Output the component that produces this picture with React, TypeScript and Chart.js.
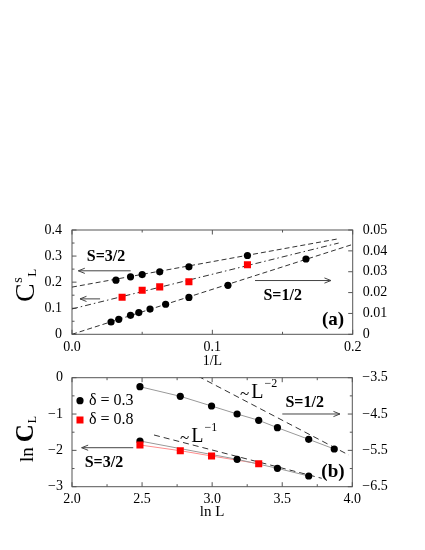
import React, { useEffect, useRef } from "react";
import { Chart, registerables } from "chart.js";

Chart.register(...registerables);

// ---------------- Panel (a): C^s_L versus 1/L ----------------
// S = 1/2 (right axis)
const INV_L_HALF = [0.0278, 0.0333, 0.0417, 0.0476, 0.0556, 0.0667, 0.0833, 0.1111, 0.1667];
const CS_HALF = [0.0059, 0.0072, 0.0091, 0.0104, 0.0121, 0.0144, 0.0177, 0.0235, 0.0361];
const FIT_HALF_X = [0, 0.2];
const FIT_HALF_Y = [0, 0.0431];

// S = 3/2, delta = 0.3 (left axis)
const INV_L_D03 = [0.0313, 0.0417, 0.05, 0.0625, 0.0833, 0.125];
const CS_D03 = [0.2077, 0.2204, 0.2292, 0.2396, 0.2588, 0.3023];
const FIT_D03_X = [0, 0.19];
const FIT_D03_Y = [0.181, 0.3665];

// S = 3/2, delta = 0.8 (left axis)
const INV_L_D08 = [0.0357, 0.05, 0.0625, 0.0833, 0.125];
const CS_D08 = [0.1423, 0.1692, 0.1819, 0.2012, 0.2665];
const FIT_D08_X = [0, 0.19];
const FIT_D08_Y = [0.0973, 0.35];

// ---------------- Panel (b): ln C_L versus ln L ----------------
// S = 1/2 (right axis)
const LNL_HALF = [2.4849, 2.7726, 2.9957, 3.1781, 3.3322, 3.4657, 3.6889, 3.8712];
const LNC_HALF = [-3.748, -4.012, -4.279, -4.499, -4.673, -4.876, -5.196, -5.462];
// S = 3/2, delta = 0.3 (left axis)
const LNL_D03 = [2.4849, 3.1781, 3.4657, 3.6889];
const LNC_D03 = [-1.742, -2.246, -2.494, -2.706];
// S = 3/2, delta = 0.8 (left axis)
const LNL_D08 = [2.4849, 2.7726, 2.9957, 3.3322];
const LNC_D08 = [-1.852, -2.009, -2.155, -2.367];
// guide ~ L^-2 (right axis) and ~ L^-1 (left axis)
const GUIDE_L2_X = [2.9, 3.976];
const GUIDE_L2_Y = [-3.46, -5.63];
const GUIDE_L1_X = [2.585, 3.782];
const GUIDE_L1_Y = [-1.577, -2.769];

// ---------------- Ticks ----------------
const TOP_X_TICKS = [0, 0.1, 0.2];
const TOP_X_LABELS = ["0.0", "0.1", "0.2"];
const TOP_X_MINOR = [0.05, 0.15];
const TOP_YL_TICKS = [0, 0.1, 0.2, 0.3, 0.4];
const TOP_YL_LABELS = ["0", "0.1", "0.2", "0.3", "0.4"];
const TOP_YL_MINOR = [0.05, 0.15, 0.25, 0.35];
const TOP_YR_TICKS = [0, 0.01, 0.02, 0.03, 0.04, 0.05];
const TOP_YR_LABELS = ["0", "0.01", "0.02", "0.03", "0.04", "0.05"];
const TOP_YR_MINOR: number[] = [];

const BOT_X_TICKS = [2, 2.5, 3, 3.5, 4];
const BOT_X_LABELS = ["2.0", "2.5", "3.0", "3.5", "4.0"];
const BOT_X_MINOR = [2.25, 2.75, 3.25, 3.75];
const BOT_YL_TICKS = [-3, -2, -1, 0];
const BOT_YL_LABELS = ["\u22123", "\u22122", "\u22121", "0"];
const BOT_YL_MINOR = [-2.5, -1.5, -0.5];
const BOT_YR_TICKS = [-6.5, -5.5, -4.5, -3.5];
const BOT_YR_LABELS = ["\u22126.5", "\u22125.5", "\u22124.5", "\u22123.5"];
const BOT_YR_MINOR = [-6, -5, -4];

const SERIF = '"Liberation Serif", "Times New Roman", serif';
const FRAME = "#555";
const FIT = "#333";

const zip = (xs: number[], ys: number[]) => xs.map((x, i) => ({ x, y: ys[i] }));

function setTicks(values: number[]) {
  return (s: any) => {
    s.ticks = values.map((v) => ({ value: v }));
  };
}

function tickOpts(labels: string[], padding: number) {
  return {
    callback: (_v: any, i: number) => labels[i],
    autoSkip: false,
    maxRotation: 0,
    padding,
    color: "#000",
    font: { family: SERIF, size: 14 },
  };
}

function seg(ctx: CanvasRenderingContext2D, x1: number, y1: number, x2: number, y2: number) {
  ctx.beginPath();
  ctx.moveTo(x1, y1);
  ctx.lineTo(x2, y2);
  ctx.stroke();
}

function arrow(ctx: CanvasRenderingContext2D, x1: number, y1: number, x2: number, y2: number) {
  const ang = Math.atan2(y2 - y1, x2 - x1);
  const L = 6.5;
  const W = 2.6;
  seg(ctx, x1, y1, x2, y2);
  ctx.beginPath();
  ctx.moveTo(x2 - L * Math.cos(ang) + W * Math.sin(ang), y2 - L * Math.sin(ang) - W * Math.cos(ang));
  ctx.lineTo(x2, y2);
  ctx.lineTo(x2 - L * Math.cos(ang) - W * Math.sin(ang), y2 - L * Math.sin(ang) + W * Math.cos(ang));
  ctx.stroke();
}

function text(
  ctx: CanvasRenderingContext2D,
  s: string,
  x: number,
  y: number,
  font: string,
  align: CanvasTextAlign = "left",
  baseline: CanvasTextBaseline = "alphabetic"
) {
  ctx.font = font;
  ctx.textAlign = align;
  ctx.textBaseline = baseline;
  ctx.fillStyle = "#000";
  ctx.fillText(s, x, y);
  return ctx.measureText(s).width;
}

function drawFrameAndTicks(
  chart: any,
  xMaj: number[],
  xMin: number[],
  ylMaj: number[],
  ylMin: number[],
  yrMaj: number[],
  yrMin: number[]
) {
  const { ctx, chartArea: a, scales } = chart;
  const MAJ = 4.5;
  const MIN = 2.5;
  ctx.save();
  ctx.strokeStyle = FRAME;
  ctx.lineWidth = 1;
  ctx.strokeRect(a.left, a.top, a.right - a.left, a.bottom - a.top);
  const xt = (vals: number[], len: number) =>
    vals.forEach((v) => {
      const p = scales.x.getPixelForValue(v);
      seg(ctx, p, a.bottom, p, a.bottom - len);
      seg(ctx, p, a.top, p, a.top + len);
    });
  xt(xMaj, MAJ);
  xt(xMin, MIN);
  const yt = (id: string, vals: number[], len: number, left: boolean) =>
    vals.forEach((v) => {
      const p = scales[id].getPixelForValue(v);
      if (left) seg(ctx, a.left, p, a.left + len, p);
      else seg(ctx, a.right, p, a.right - len, p);
    });
  yt("y", ylMaj, MAJ, true);
  yt("y", ylMin, MIN, true);
  yt("y2", yrMaj, MAJ, false);
  yt("y2", yrMin, MIN, false);
  ctx.restore();
}

const topDecor = {
  id: "topDecor",
  beforeDatasetsDraw(chart: any) {
    drawFrameAndTicks(chart, TOP_X_TICKS, TOP_X_MINOR, TOP_YL_TICKS, TOP_YL_MINOR, TOP_YR_TICKS, TOP_YR_MINOR);
  },
  afterDatasetsDraw(chart: any) {
    const { ctx, scales } = chart;
    const X = (v: number) => scales.x.getPixelForValue(v);
    const Y = (v: number) => scales.y.getPixelForValue(v);
    ctx.save();
    ctx.strokeStyle = "#444";
    ctx.lineWidth = 1;
    arrow(ctx, X(0.0418), Y(0.2435), X(0.0045), Y(0.2435));
    arrow(ctx, X(0.02), Y(0.1358), X(0.0057), Y(0.1358));
    arrow(ctx, X(0.1304), Y(0.2062), X(0.1845), Y(0.2062));
    const bold16 = `bold 16px ${SERIF}`;
    text(ctx, "S=3/2", X(0.0242), Y(0.2985), bold16, "center", "middle");
    text(ctx, "S=1/2", X(0.1501), Y(0.1485), bold16, "center", "middle");
    text(ctx, "(a)", X(0.186), Y(0.055), `bold 19px ${SERIF}`, "center", "middle");

    // y-axis title C^s_L (rotated)
    ctx.save();
    ctx.translate(34, 302);
    ctx.rotate(-Math.PI / 2);
    const wC = text(ctx, "C", 0, 0, `28px ${SERIF}`);
    text(ctx, "s", wC + 0.5, -12, `14px ${SERIF}`);
    text(ctx, "L", wC + 6.5, 2, `13px ${SERIF}`);
    ctx.restore();
    ctx.restore();
  },
};

const botDecor = {
  id: "botDecor",
  beforeDatasetsDraw(chart: any) {
    drawFrameAndTicks(chart, BOT_X_TICKS, BOT_X_MINOR, BOT_YL_TICKS, BOT_YL_MINOR, BOT_YR_TICKS, BOT_YR_MINOR);
  },
  afterDatasetsDraw(chart: any) {
    const { ctx, scales } = chart;
    const X = (v: number) => scales.x.getPixelForValue(v);
    const Y = (v: number) => scales.y.getPixelForValue(v);
    ctx.save();
    ctx.strokeStyle = "#444";
    ctx.lineWidth = 1;
    arrow(ctx, X(3.5006), Y(-0.999), X(3.912), Y(-0.999));
    arrow(ctx, X(2.437), Y(-1.927), X(2.069), Y(-1.927));
    const bold16 = `bold 16px ${SERIF}`;
    text(ctx, "S=1/2", X(3.66), Y(-0.688), bold16, "center", "middle");
    text(ctx, "S=3/2", X(2.228), Y(-2.356), bold16, "center", "middle");
    text(ctx, "(b)", X(3.862), Y(-2.587), `bold 19px ${SERIF}`, "center", "middle");

    // power-law guides labels
    const powLabel = (x0: number, yb: number, sup: string) => {
      let x = x0;
      x += text(ctx, "~", x, yb + 1, `17px ${SERIF}`) + 2;
      x += text(ctx, "L", x, yb, `20px ${SERIF}`) + 1;
      text(ctx, sup, x, yb - 11, `12px ${SERIF}`);
    };
    powLabel(X(3.199), Y(-0.559), "\u22122");
    powLabel(X(2.771), Y(-1.762), "\u22121");

    // legend
    const lx = X(2.057);
    const ly1 = Y(-0.633);
    const ly2 = Y(-1.164);
    ctx.fillStyle = "#000";
    ctx.beginPath();
    ctx.arc(lx, ly1, 3.6, 0, Math.PI * 2);
    ctx.fill();
    ctx.fillStyle = "#ff0000";
    ctx.fillRect(lx - 3.5, ly2 - 3.5, 7, 7);
    text(ctx, "\u03b4 = 0.3", X(2.121), ly1, `16px ${SERIF}`, "left", "middle");
    text(ctx, "\u03b4 = 0.8", X(2.121), ly2, `16px ${SERIF}`, "left", "middle");

    // y-axis title ln C_L (rotated)
    ctx.save();
    ctx.translate(33, 462);
    ctx.rotate(-Math.PI / 2);
    const wln = text(ctx, "ln", 0, 0, `19px ${SERIF}`);
    const wC = text(ctx, "C", wln + 5, 0, `bold 25px ${SERIF}`);
    text(ctx, "L", wln + 5 + wC + 1, 3, `12px ${SERIF}`);
    ctx.restore();
    ctx.restore();
  },
};

function pointSet(data: any[], yAxisID: string, red = false) {
  return {
    data,
    yAxisID,
    showLine: false,
    pointStyle: red ? "rect" : "circle",
    pointRadius: red ? 5 : 3.6,
    pointBackgroundColor: red ? "#ff0000" : "#000",
    pointBorderColor: red ? "#ff0000" : "#000",
    pointBorderWidth: 0,
    order: 0,
  };
}

function lineSet(data: any[], yAxisID: string, color: string, dash: number[]) {
  return {
    data,
    yAxisID,
    showLine: true,
    borderColor: color,
    borderWidth: 1,
    borderDash: dash,
    pointRadius: 0,
    fill: false,
    order: 1,
  };
}

function baseOptions(padTop: number, padBottom: number) {
  return {
    responsive: false,
    animation: false as const,
    devicePixelRatio: 1,
    events: [],
    layout: { padding: { top: padTop, bottom: padBottom, left: 0, right: 0 } },
    plugins: { legend: { display: false }, tooltip: { enabled: false } },
  };
}

function topConfig(): any {
  const o: any = baseOptions(230, 180.6);
  o.scales = {
    x: {
      type: "linear",
      position: "bottom",
      min: 0,
      max: 0.2,
      afterBuildTicks: setTicks(TOP_X_TICKS),
      ticks: tickOpts(TOP_X_LABELS, 5),
      grid: { display: false, drawTicks: false },
      border: { display: false },
      title: { display: true, text: "1/L", color: "#000", font: { family: SERIF, size: 14 }, padding: 0 },
      afterFit: (s: any) => {
        s.height = 35.1;
      },
    },
    y: {
      type: "linear",
      position: "left",
      min: 0,
      max: 0.4,
      afterBuildTicks: setTicks(TOP_YL_TICKS),
      ticks: tickOpts(TOP_YL_LABELS, 10),
      grid: { display: false, drawTicks: false },
      border: { display: false },
      afterFit: (s: any) => {
        s.width = 72;
      },
    },
    y2: {
      type: "linear",
      position: "right",
      min: 0,
      max: 0.05,
      afterBuildTicks: setTicks(TOP_YR_TICKS),
      ticks: tickOpts(TOP_YR_LABELS, 10),
      grid: { display: false, drawTicks: false },
      border: { display: false },
      afterFit: (s: any) => {
        s.width = 72.3;
      },
    },
  };
  return {
    type: "scatter",
    data: {
      datasets: [
        pointSet(zip(INV_L_HALF, CS_HALF), "y2"),
        pointSet(zip(INV_L_D03, CS_D03), "y"),
        pointSet(zip(INV_L_D08, CS_D08), "y", true),
        lineSet(zip(FIT_HALF_X, FIT_HALF_Y), "y2", FIT, [5, 3]),
        lineSet(zip(FIT_D03_X, FIT_D03_Y), "y", FIT, [5, 3]),
        lineSet(zip(FIT_D08_X, FIT_D08_Y), "y", FIT, [6, 3, 1.5, 3]),
      ],
    },
    options: o,
    plugins: [topDecor],
  };
}

function bottomConfig(): any {
  const o: any = baseOptions(377.7, 28.7);
  o.scales = {
    x: {
      type: "linear",
      position: "bottom",
      min: 2,
      max: 4,
      afterBuildTicks: setTicks(BOT_X_TICKS),
      ticks: tickOpts(BOT_X_LABELS, 4),
      grid: { display: false, drawTicks: false },
      border: { display: false },
      title: { display: true, text: "ln L", color: "#000", font: { family: SERIF, size: 15 }, padding: 0 },
      afterFit: (s: any) => {
        s.height = 34.6;
      },
    },
    y: {
      type: "linear",
      position: "left",
      min: -3,
      max: 0,
      afterBuildTicks: setTicks(BOT_YL_TICKS),
      ticks: tickOpts(BOT_YL_LABELS, 9),
      grid: { display: false, drawTicks: false },
      border: { display: false },
      afterFit: (s: any) => {
        s.width = 72;
      },
    },
    y2: {
      type: "linear",
      position: "right",
      min: -6.5,
      max: -3.5,
      afterBuildTicks: setTicks(BOT_YR_TICKS),
      ticks: tickOpts(BOT_YR_LABELS, 10),
      grid: { display: false, drawTicks: false },
      border: { display: false },
      afterFit: (s: any) => {
        s.width = 72.7;
      },
    },
  };
  return {
    type: "scatter",
    data: {
      datasets: [
        pointSet(zip(LNL_D08, LNC_D08), "y", true),
        pointSet(zip(LNL_HALF, LNC_HALF), "y2"),
        pointSet(zip(LNL_D03, LNC_D03), "y"),
        lineSet(zip(LNL_HALF, LNC_HALF), "y2", "#999", []),
        lineSet(zip(LNL_D03, LNC_D03), "y", "#999", []),
        lineSet(zip(LNL_D08, LNC_D08), "y", "#ff8c8c", []),
        lineSet(zip(GUIDE_L2_X, GUIDE_L2_Y), "y2", FIT, [6, 4]),
        lineSet(zip(GUIDE_L1_X, GUIDE_L1_Y), "y", FIT, [6, 4]),
      ],
    },
    options: o,
    plugins: [botDecor],
  };
}

export default function App() {
  const topRef = useRef<HTMLCanvasElement>(null);
  const botRef = useRef<HTMLCanvasElement>(null);
  useEffect(() => {
    const c1 = new Chart(topRef.current as HTMLCanvasElement, topConfig());
    const c2 = new Chart(botRef.current as HTMLCanvasElement, bottomConfig());
    return () => {
      c1.destroy();
      c2.destroy();
    };
  }, []);
  return (
    <div style={{ position: "absolute", left: 0, top: 0, width: 425, height: 550, background: "#fff" }}>
      <canvas ref={topRef} width={425} height={550} style={{ position: "absolute", left: 0, top: 0 }} />
      <canvas ref={botRef} width={425} height={550} style={{ position: "absolute", left: 0, top: 0 }} />
    </div>
  );
}
